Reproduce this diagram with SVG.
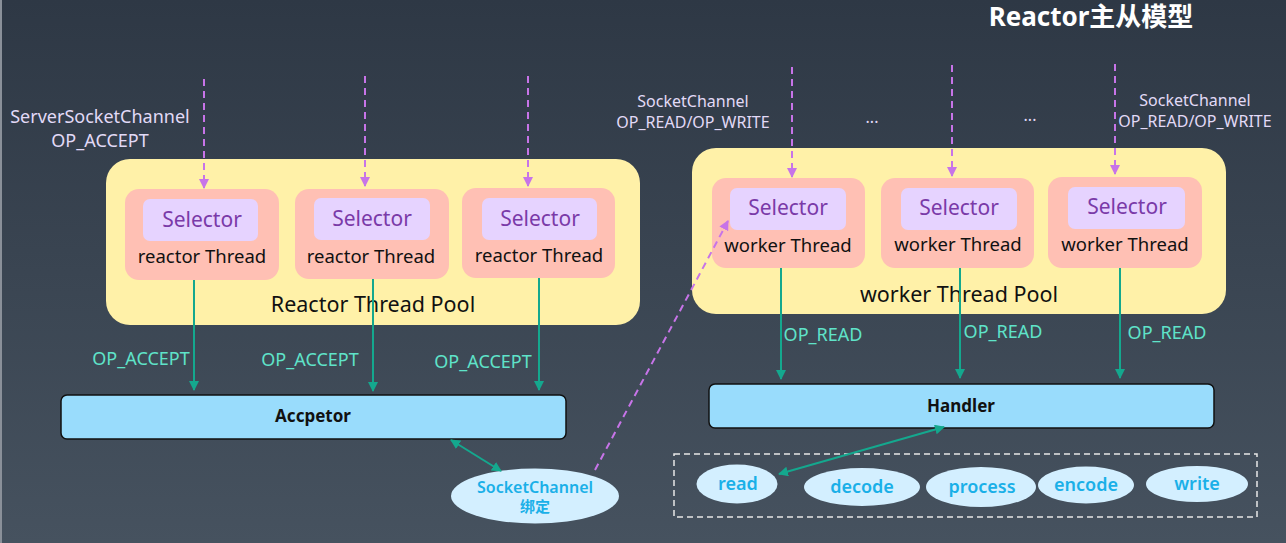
<svg xmlns="http://www.w3.org/2000/svg" width="1286" height="543" viewBox="0 0 1286 543">
<defs>
<linearGradient id="bg" x1="0" y1="0" x2="0" y2="1">
<stop offset="0" stop-color="#2e3845"/>
<stop offset="1" stop-color="#46525f"/>
</linearGradient>
<marker id="mp" viewBox="0 0 10 10" refX="9" refY="5" markerWidth="5" markerHeight="5" orient="auto-start-reverse"><path d="M0,0 L10,5 L0,10 z" fill="#c774e8"/></marker>
<marker id="mt" viewBox="0 0 10 10" refX="9" refY="5" markerWidth="5" markerHeight="5" orient="auto-start-reverse"><path d="M0,0 L10,5 L0,10 z" fill="#14a88e"/></marker>
</defs>
<style>
text{font-family:"Noto Sans","Noto Sans CJK SC",sans-serif;text-anchor:middle}
.pool{fill:#fff1a8}
.thr{fill:#ffc0b4}
.sel{fill:#e6d3ff}
.selt{fill:#7a3aa8;font-size:21px}
.thrt{fill:#111;font-size:18.5px}
.poolt{fill:#111;font-size:21.5px}
.lab{fill:#e2daf7;font-size:16px}
.lab2{fill:#e2daf7;font-size:18px}
.op{fill:#5fe3c9;font-size:18px}
.box{fill:#99dcfc;stroke:#111;stroke-width:1.5}
.boxt{fill:#111;font-size:17px;font-weight:bold}
.ell{fill:#d3efff}
.ellt{fill:#1ab0e8;font-size:18px;font-weight:600}
.dash{stroke:#c774e8;stroke-width:2;stroke-dasharray:7,5;fill:none}
.teal{stroke:#14a88e;stroke-width:2;fill:none}
</style>
<rect width="1286" height="543" fill="url(#bg)"/>
<rect x="0" y="0" width="2" height="543" fill="#8a9099"/>
<text x="1091" y="26" fill="#ffffff" font-size="26" font-weight="bold">Reactor主从模型</text>

<g id="labels">
<text class="lab2" x="100" y="123">ServerSocketChannel</text>
<text class="lab2" x="100" y="147">OP_ACCEPT</text>
<text class="lab" x="693" y="107">SocketChannel</text>
<text class="lab" x="693" y="128">OP_READ/OP_WRITE</text>
<text class="lab" x="872" y="123">...</text>
<text class="lab" x="1030" y="121">...</text>
<text class="lab" x="1195" y="106">SocketChannel</text>
<text class="lab" x="1195" y="127">OP_READ/OP_WRITE</text>
</g>

<g id="reactor-pool">
<rect class="pool" x="106" y="159" width="534" height="166" rx="24"/>
<text class="poolt" x="373" y="312">Reactor Thread Pool</text>
</g>
<g id="reactor-thread-1">
<rect class="thr" x="125" y="189" width="154" height="91" rx="14"/>
<rect class="sel" x="143" y="199" width="115" height="42" rx="7"/>
<text class="selt" x="202" y="227">Selector</text>
<text class="thrt" x="202" y="263">reactor Thread</text>
</g>
<g id="reactor-thread-2">
<rect class="thr" x="295" y="189" width="154" height="90" rx="14"/>
<rect class="sel" x="314" y="198" width="116" height="42" rx="7"/>
<text class="selt" x="372" y="226">Selector</text>
<text class="thrt" x="371" y="263">reactor Thread</text>
</g>
<g id="reactor-thread-3">
<rect class="thr" x="462" y="188" width="153" height="90" rx="14"/>
<rect class="sel" x="482" y="198" width="115" height="42" rx="7"/>
<text class="selt" x="540" y="226">Selector</text>
<text class="thrt" x="539" y="262">reactor Thread</text>
</g>

<g id="worker-pool">
<rect class="pool" x="692" y="148" width="534" height="166" rx="24"/>
<text class="poolt" x="959" y="302">worker Thread Pool</text>
</g>
<g id="worker-thread-1">
<rect class="thr" x="712" y="178" width="153" height="90" rx="14"/>
<rect class="sel" x="730" y="188" width="116" height="42" rx="7"/>
<text class="selt" x="788" y="215">Selector</text>
<text class="thrt" x="788" y="252">worker Thread</text>
</g>
<g id="worker-thread-2">
<rect class="thr" x="881" y="178" width="153" height="90" rx="14"/>
<rect class="sel" x="901" y="188" width="116" height="42" rx="7"/>
<text class="selt" x="959" y="215">Selector</text>
<text class="thrt" x="958" y="251">worker Thread</text>
</g>
<g id="worker-thread-3">
<rect class="thr" x="1048" y="177" width="154" height="91" rx="14"/>
<rect class="sel" x="1068" y="187" width="117" height="42" rx="7"/>
<text class="selt" x="1127" y="214">Selector</text>
<text class="thrt" x="1125" y="251">worker Thread</text>
</g>

<g id="acceptor">
<rect class="box" x="61" y="395" width="505" height="44" rx="6"/>
<text class="boxt" x="313" y="422">Accpetor</text>
</g>
<g id="handler">
<rect class="box" x="709" y="384" width="505" height="44" rx="6"/>
<text class="boxt" x="961" y="412">Handler</text>
</g>

<g id="socketchannel-bind">
<ellipse class="ell" cx="535" cy="496" rx="84" ry="27.5"/>
<text class="ellt" x="535" y="493" style="font-size:16px">SocketChannel</text>
<text class="ellt" x="535" y="512" style="font-size:15px">绑定</text>
</g>

<g id="stages">
<rect x="674" y="454" width="583" height="63" fill="none" stroke="#e8e8e8" stroke-width="1.5" stroke-dasharray="6,4"/>
<g id="stage-read"><ellipse class="ell" cx="737" cy="484" rx="40.5" ry="19.5"/><text class="ellt" x="738" y="490">read</text></g>
<g id="stage-decode"><ellipse class="ell" cx="862" cy="487" rx="58" ry="19"/><text class="ellt" x="862" y="493">decode</text></g>
<g id="stage-process"><ellipse class="ell" cx="981" cy="487" rx="55" ry="20"/><text class="ellt" x="982" y="493">process</text></g>
<g id="stage-encode"><ellipse class="ell" cx="1086" cy="485" rx="48" ry="18.5"/><text class="ellt" x="1086" y="491">encode</text></g>
<g id="stage-write"><ellipse class="ell" cx="1197" cy="484" rx="51" ry="18"/><text class="ellt" x="1197" y="490">write</text></g>
</g>

<g id="connectors">
<line class="dash" x1="204" y1="79" x2="204" y2="188" marker-end="url(#mp)"/>
<line class="dash" x1="365" y1="76" x2="365" y2="186" marker-end="url(#mp)"/>
<line class="dash" x1="528" y1="76" x2="528" y2="186" marker-end="url(#mp)"/>
<line class="dash" x1="792" y1="67" x2="792" y2="177" marker-end="url(#mp)"/>
<line class="dash" x1="952" y1="65" x2="952" y2="176" marker-end="url(#mp)"/>
<line class="dash" x1="1115" y1="64" x2="1115" y2="174" marker-end="url(#mp)"/>
<line class="dash" x1="595" y1="470" x2="728" y2="221" marker-end="url(#mp)"/>

<line class="teal" x1="194" y1="280" x2="194" y2="390" marker-end="url(#mt)"/>
<line class="teal" x1="373" y1="279" x2="373" y2="391" marker-end="url(#mt)"/>
<line class="teal" x1="539" y1="278" x2="539" y2="390" marker-end="url(#mt)"/>
<line class="teal" x1="781" y1="268" x2="781" y2="379" marker-end="url(#mt)"/>
<line class="teal" x1="960" y1="268" x2="960" y2="378" marker-end="url(#mt)"/>
<line class="teal" x1="1120" y1="268" x2="1120" y2="378" marker-end="url(#mt)"/>
<line class="teal" x1="451" y1="440" x2="501" y2="471" marker-start="url(#mt)" marker-end="url(#mt)"/>
<line class="teal" x1="944" y1="427" x2="779" y2="474" marker-start="url(#mt)" marker-end="url(#mt)"/>

<text class="op" x="141" y="365">OP_ACCEPT</text>
<text class="op" x="310" y="366">OP_ACCEPT</text>
<text class="op" x="483" y="368">OP_ACCEPT</text>
<text class="op" x="823" y="341">OP_READ</text>
<text class="op" x="1003" y="338">OP_READ</text>
<text class="op" x="1167" y="339">OP_READ</text>
</g>
</svg>
